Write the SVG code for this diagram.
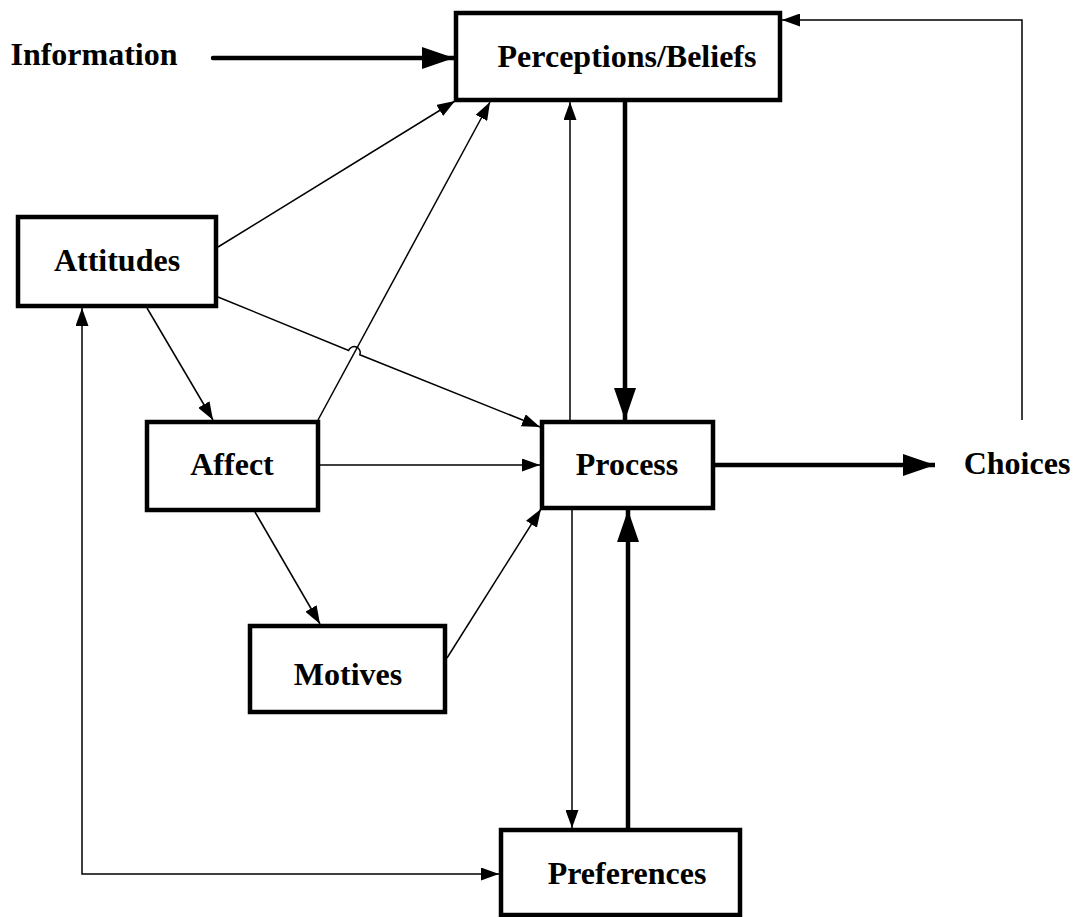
<svg xmlns="http://www.w3.org/2000/svg" width="1080" height="917" viewBox="0 0 1080 917">
<style>
.box{fill:#fff;stroke:#000;stroke-width:4.5;}
.lbl{font-family:"Liberation Serif","Times New Roman",serif;font-weight:bold;font-size:32px;fill:#000;text-anchor:middle;}
.thin{fill:none;stroke:#000;stroke-width:1.5;marker-end:url(#ah);}
.thick{fill:none;stroke:#000;stroke-width:4.5;marker-end:url(#AH);}
</style>
<defs>
<marker id="ah" markerUnits="userSpaceOnUse" markerWidth="18" markerHeight="13" refX="18" refY="6.5" orient="auto"><path d="M0,0 L18,6.5 L0,13 z" fill="#000"/></marker>
<marker id="ahs" markerUnits="userSpaceOnUse" markerWidth="18" markerHeight="13" refX="18" refY="6.5" orient="auto-start-reverse"><path d="M0,0 L18,6.5 L0,13 z" fill="#000"/></marker>
<marker id="AH" markerUnits="userSpaceOnUse" markerWidth="32" markerHeight="22" refX="32" refY="11" orient="auto"><path d="M0,0 L32,11 L0,22 z" fill="#000"/></marker>
</defs>
<rect width="1080" height="917" fill="#fff"/>
<g id="connectors">
<line class="thick" x1="213" y1="58" x2="454" y2="58" stroke-linecap="round"/>
<line class="thick" x1="625" y1="102" x2="625" y2="420"/>
<line class="thick" x1="715" y1="465" x2="935" y2="465"/>
<line class="thick" x1="628" y1="828" x2="628" y2="510"/>
<path class="thin" d="M1022,420 L1022,20 L782,20"/>
<line class="thin" x1="570" y1="420" x2="570" y2="102"/>
<line class="thin" x1="572" y1="510" x2="572" y2="828"/>
<line class="thin" x1="218" y1="247" x2="455" y2="101"/>
<path class="thin" d="M218,297 L348.6,350.4 A6,6 0 0 1 359.8,354.8 L540,427"/>
<line class="thin" x1="147" y1="308" x2="213" y2="420"/>
<line class="thin" x1="318" y1="420" x2="490" y2="102"/>
<line class="thin" x1="320" y1="465" x2="540" y2="465"/>
<line class="thin" x1="255" y1="512" x2="320" y2="624"/>
<line class="thin" x1="447" y1="658" x2="541" y2="509"/>
<path class="thin" d="M82,308 L82,874 L499,874" style="marker-start:url(#ahs)"/>
</g>
<g id="perceptions"><rect class="box" x="456" y="13" width="324" height="87"/><text class="lbl" x="627" y="67">Perceptions/Beliefs</text></g>
<g id="attitudes"><rect class="box" x="18" y="217" width="198" height="89"/><text class="lbl" x="117" y="271">Attitudes</text></g>
<g id="affect"><rect class="box" x="147" y="422" width="171" height="88"/><text class="lbl" x="232" y="475">Affect</text></g>
<g id="process"><rect class="box" x="542" y="422" width="171" height="86"/><text class="lbl" x="627" y="475">Process</text></g>
<g id="motives"><rect class="box" x="250" y="626" width="195" height="86"/><text class="lbl" x="348" y="685">Motives</text></g>
<g id="preferences"><rect class="box" x="501" y="830" width="239" height="85"/><text class="lbl" x="627" y="884">Preferences</text></g>
<g id="information"><text class="lbl" x="94" y="65">Information</text></g>
<g id="choices"><text class="lbl" x="1017" y="474">Choices</text></g>
</svg>
